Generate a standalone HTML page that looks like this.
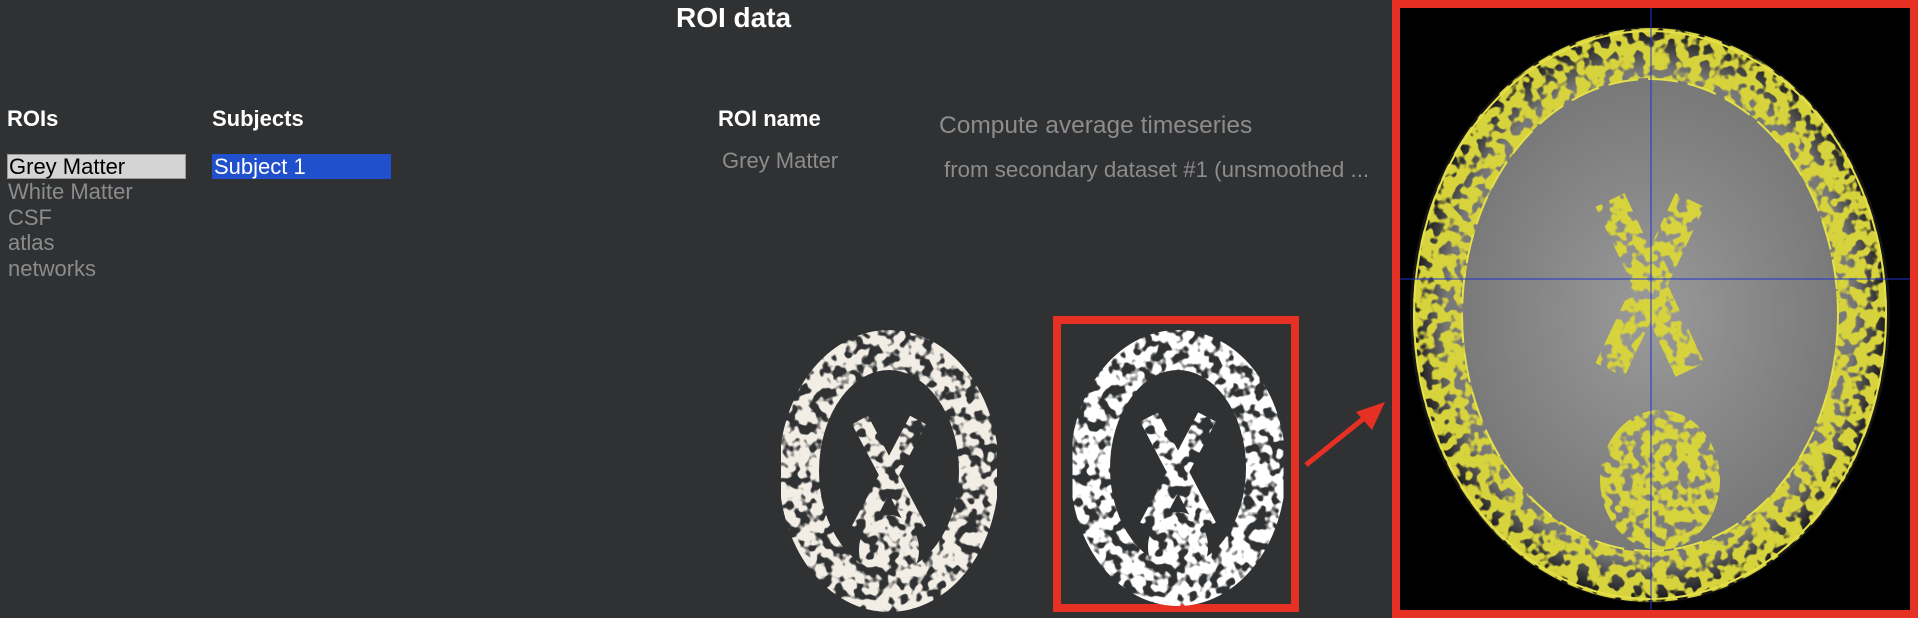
<!DOCTYPE html>
<html><head><meta charset="utf-8"><style>
body{margin:0;width:1918px;height:618px;background:#2f3133;overflow:hidden;position:relative;font-family:"Liberation Sans",sans-serif}
.t{position:absolute;white-space:nowrap}
.h{font-weight:bold;color:#fff;font-size:22px}
.g{color:#8c8c8c;font-size:22px}
</style></head><body>
<div class="t" style="left:676px;top:2px;font-size:28px;font-weight:bold;color:#fff">ROI data</div>
<div class="t h" style="left:7px;top:106px">ROIs</div>
<div class="t h" style="left:212px;top:106px">Subjects</div>
<div class="t h" style="left:718px;top:106px">ROI name</div>
<div class="t" style="left:7px;top:154px;width:179px;height:25px;background:#d4d4d4;border:1px solid #999;box-sizing:border-box;color:#000;font-size:22px;line-height:23px;padding-left:1px">Grey Matter</div>
<div class="t g" style="left:8px;top:179px">White Matter</div>
<div class="t g" style="left:8px;top:205px">CSF</div>
<div class="t g" style="left:8px;top:230px">atlas</div>
<div class="t g" style="left:8px;top:256px">networks</div>
<div class="t" style="left:212px;top:154px;width:179px;height:25px;background:#2150cc;color:#fff;font-size:22px;line-height:25px;padding-left:2px;box-sizing:border-box">Subject 1</div>
<div class="t g" style="left:722px;top:148px">Grey Matter</div>
<div class="t g" style="left:939px;top:112px;font-size:24.5px">Compute average timeseries</div>
<div class="t g" style="left:944px;top:157px;font-size:22.3px">from secondary dataset #1 (unsmoothed ...</div>

<svg width="1918" height="618" style="position:absolute;left:0;top:0">
<defs>
<filter id="sp" x="0" y="0" width="100%" height="100%"><feTurbulence type="fractalNoise" baseFrequency="0.09" numOctaves="2" seed="3"/><feColorMatrix type="matrix" values="0 0 0 0 1 0 0 0 0 1 0 0 0 0 1 0 0 0 9 -3.6"/></filter>
<mask id="m1"><rect width="1918" height="618" fill="#000"/><rect width="1918" height="618" fill="#fff" filter="url(#sp)"/></mask>
<radialGradient id="gb" cx="50%" cy="50%" r="50%"><stop offset="0" stop-color="#9a9a9a"/><stop offset="0.85" stop-color="#777"/><stop offset="1" stop-color="#111"/></radialGradient>
</defs>
<g>
<g mask="url(#m1)" fill="#f2eee6">
<ellipse cx="889" cy="471" rx="90" ry="121" fill="none" stroke="#f2eee6" stroke-width="40"/>
<path d="M860 420 L918 530 M918 420 L860 530" stroke="#f2eee6" stroke-width="18"/>
<ellipse cx="889" cy="550" rx="30" ry="35"/>
</g>
</g>
<rect x="1057" y="320" width="238" height="288" fill="none" stroke="#e53023" stroke-width="8"/>
<g>
<g mask="url(#m1)" transform="translate(289 -3)" fill="#fff">
<ellipse cx="889" cy="471" rx="88" ry="118" fill="none" stroke="#fff" stroke-width="40"/>
<path d="M860 420 L918 530 M918 420 L860 530" stroke="#fff" stroke-width="20"/>
<ellipse cx="889" cy="550" rx="30" ry="35"/>
</g>
</g>
<path d="M1306 465 L1368 415" stroke="#e53023" stroke-width="5"/>
<polygon points="1385,402 1356,412 1372,430" fill="#e53023"/>
<g>
<rect x="1396" y="4" width="518" height="610" fill="#000" stroke="#e53023" stroke-width="8"/>
<ellipse cx="1650" cy="315" rx="240" ry="288" fill="url(#gb)"/>
<g mask="url(#m1)" fill="#d7d33c">
<ellipse cx="1650" cy="315" rx="212" ry="262" fill="none" stroke="#d7d33c" stroke-width="50"/>
<path d="M1610 200 L1690 370 M1690 200 L1610 370" stroke="#d7d33c" stroke-width="32"/>
<ellipse cx="1660" cy="480" rx="60" ry="70"/>
</g>
<ellipse cx="1650" cy="315" rx="236" ry="284" fill="none" stroke="#e5e04a" stroke-width="2"/>
<ellipse cx="1650" cy="315" rx="188" ry="236" fill="none" stroke="#e5e04a" stroke-width="2" stroke-dasharray="30 10"/>
<line x1="1651" y1="8" x2="1651" y2="610" stroke="#2233cc" stroke-width="1"/>
<line x1="1400" y1="279" x2="1910" y2="279" stroke="#2233cc" stroke-width="1"/>
</g>
</svg>
</body></html>
